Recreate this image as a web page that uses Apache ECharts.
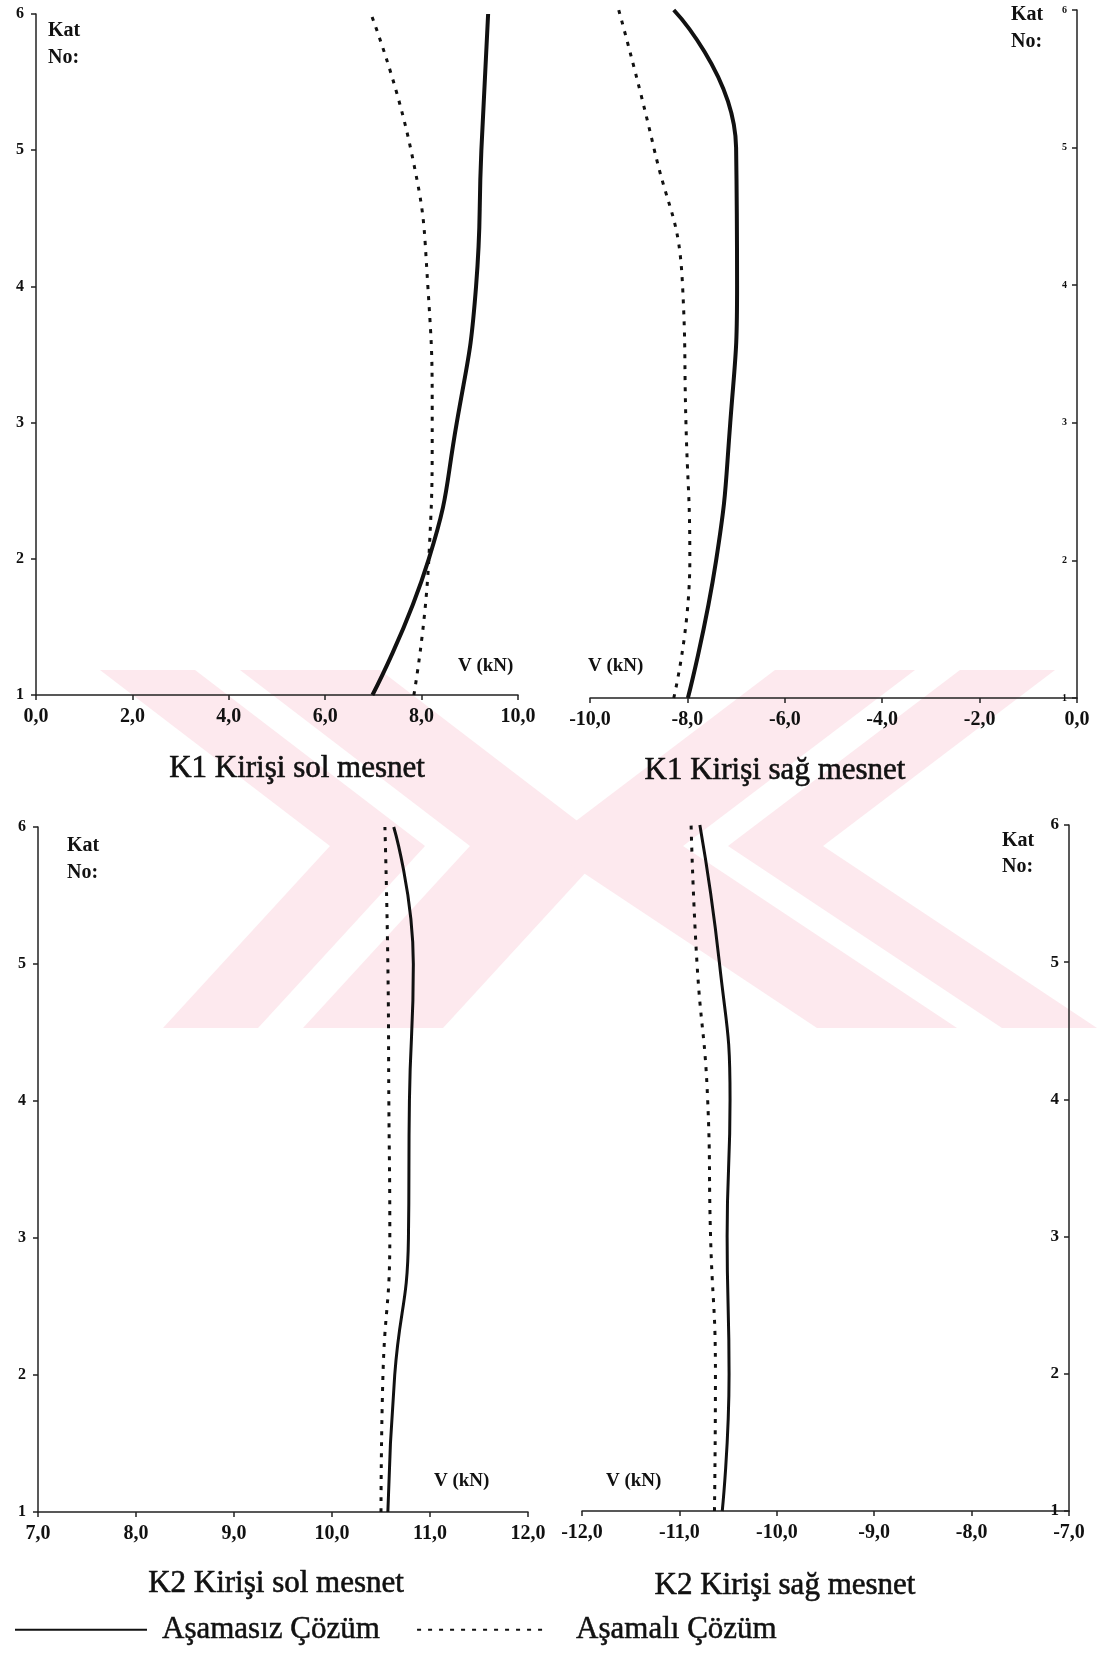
<!DOCTYPE html>
<html>
<head>
<meta charset="utf-8">
<script src="https://cdn.jsdelivr.net/npm/echarts@6/dist/echarts.min.js"></script>
<style>
  html, body { margin: 0; padding: 0; background: #fff; }
  #chart { width: 1098px; height: 1654px; }
</style>
</head>
<body>
<div id="chart"></div>
<script>
// kat numaraları (y ekseni)
const floors = [1, 2, 3, 4, 5, 6];

// kesme kuvvetleri V (kN), kat 1..6
const k1SolAsamasiz = [6.98, 8.15, 8.73, 9.13, 9.24, 9.38];
const k1SolAsamali = [7.84, 8.15, 8.22, 8.13, 7.78, 6.95];
const k1SagAsamasiz = [-7.99, -7.41, -7.12, -6.98, -7.00, -8.28];
const k1SagAsamali = [-8.28, -7.95, -8.03, -8.10, -8.69, -9.41];
const k2SolAsamasiz = [10.57, 10.64, 10.78, 10.79, 10.83, 10.63];
const k2SolAsamali = [10.50, 10.52, 10.59, 10.58, 10.57, 10.54];
const k2SagAsamasiz = [-10.56, -10.49, -10.51, -10.48, -10.59, -10.79];
const k2SagAsamali = [-10.64, -10.63, -10.68, -10.71, -10.82, -10.88];

const panelTitles = ['K1 Kirişi sol mesnet', 'K1 Kirişi sağ mesnet', 'K2 Kirişi sol mesnet', 'K2 Kirişi sağ mesnet'];
const seriesNames = ['Aşamasız Çözüm', 'Aşamalı Çözüm'];
// [min, max, interval] for each panel's V axis
const xRanges = [[0, 10, 2], [-10, 0, 2], [7, 12, 1], [-12, -7, 1]];

const panelData = [
  [k1SolAsamasiz, k1SolAsamali],
  [k1SagAsamasiz, k1SagAsamali],
  [k2SolAsamasiz, k2SolAsamali],
  [k2SagAsamasiz, k2SagAsamali]
];

const serif = '"Liberation Serif", "Times New Roman", serif';
const ink = '#111';
const pink = '#fde9ee';

const grids = [
  { left: 36, top: 14, width: 482, height: 681 },
  { left: 590, top: 10, width: 487, height: 688 },
  { left: 38, top: 827, width: 490, height: 685 },
  { left: 582, top: 825, width: 487, height: 686 }
];

// y ekseni yerleşimi: sol / sağ, yazı boyu
const yAxisPos = ['left', 'right', 'left', 'right'];
const yLabelSize = [16, 10, 16, 17];
const lineWidths = [4, 4, 3, 3];

const fmt = v => v.toFixed(1).replace('.', ',');

const xAxes = xRanges.map((r, i) => ({
  gridIndex: i,
  type: 'value',
  min: r[0],
  max: r[1],
  interval: r[2],
  splitLine: { show: false },
  axisLine: { onZero: false, lineStyle: { color: '#222', width: 1.5 } },
  axisTick: { show: true, length: 5, lineStyle: { color: '#222', width: 1.5 } },
  axisLabel: {
    margin: 12,
    formatter: fmt,
    color: ink,
    fontFamily: serif,
    fontWeight: 'bold',
    fontSize: 20
  }
}));

const yAxes = grids.map((g, i) => ({
  gridIndex: i,
  type: 'value',
  position: yAxisPos[i],
  min: 1,
  max: 6,
  interval: 1,
  splitLine: { show: false },
  axisLine: { onZero: false, lineStyle: { color: '#222', width: 1.5 } },
  axisTick: { show: true, inside: yAxisPos[i] === 'right', length: 5, lineStyle: { color: '#222', width: 1.5 } },
  axisLabel: {
    inside: yAxisPos[i] === 'right',
    margin: yAxisPos[i] === 'right' ? 10 : 12,
    color: ink,
    fontFamily: serif,
    fontWeight: 'bold',
    fontSize: yLabelSize[i]
  }
}));

const series = [];
panelData.forEach((pair, i) => {
  pair.forEach((vals, k) => {
    series.push({
      name: seriesNames[k],
      type: 'line',
      xAxisIndex: i,
      yAxisIndex: i,
      smooth: 0.5,
      symbol: 'none',
      silent: true,
      data: floors.map((f, j) => [vals[j], f]),
      lineStyle: k === 0
        ? { color: ink, width: lineWidths[i], type: 'solid' }
        : { color: ink, width: 3, type: [4, 7] },
      itemStyle: { color: ink }
    });
  });
});

const titleCenters = [[297, 769], [775, 771], [276, 1584], [785, 1586]];
const katPos = [[48, 17, 27], [1011, 1, 27], [67, 832, 27], [1002, 828, 26]];
const vPos = [[458, 666], [588, 666], [434, 1481], [606, 1481]];

const titles = [];
panelTitles.forEach((t, i) => {
  titles.push({
    text: t,
    left: titleCenters[i][0],
    top: titleCenters[i][1],
    textAlign: 'center',
    textVerticalAlign: 'middle',
    padding: 0,
    textStyle: {
      fontFamily: serif, fontWeight: 'normal', fontSize: 31, color: ink,
      textBorderColor: ink, textBorderWidth: 0.6
    }
  });
  titles.push({
    text: 'Kat\nNo:',
    left: katPos[i][0],
    top: katPos[i][1],
    padding: 0,
    textStyle: { fontFamily: serif, fontWeight: 'bold', fontSize: 20, color: ink, lineHeight: katPos[i][2] }
  });
  titles.push({
    text: 'V (kN)',
    left: vPos[i][0],
    top: vPos[i][1],
    textVerticalAlign: 'middle',
    padding: 0,
    textStyle: { fontFamily: serif, fontWeight: 'bold', fontSize: 19, color: ink }
  });
});

// soluk pembe filigran (iki ok başı)
function chevron(pts) {
  return { type: 'polygon', silent: true, z: -10, shape: { points: pts }, style: { fill: pink } };
}
const watermark = [
  chevron([[100, 670], [195, 670], [425, 846], [258, 1028], [163, 1028], [330, 846]]),
  chevron([[240, 670], [380, 670], [610, 846], [443, 1028], [303, 1028], [470, 846]]),
  chevron([[1055, 670], [960, 670], [728, 846], [1002, 1028], [1097, 1028], [823, 846]]),
  chevron([[915, 670], [775, 670], [543, 846], [817, 1028], [957, 1028], [683, 846]])
];

const legendTextStyle = { fontFamily: serif, fontSize: 31, color: ink, textBorderColor: ink, textBorderWidth: 0.5 };

const chart = echarts.init(document.getElementById('chart'), null, { renderer: 'canvas' });
chart.setOption({
  backgroundColor: '#fff',
  animation: false,
  graphic: { elements: watermark },
  title: titles,
  legend: {
    data: [
      { name: seriesNames[0], textStyle: Object.assign({}, legendTextStyle, { padding: [0, 0, 0, 10] }) },
      { name: seriesNames[1], textStyle: Object.assign({}, legendTextStyle, { padding: [0, 0, 0, 22] }) }
    ],
    left: 14,
    top: 1614,
    padding: 0,
    itemWidth: 132,
    itemHeight: 14,
    itemGap: 36,
    selectedMode: false,
    itemStyle: { opacity: 0 },
    textStyle: legendTextStyle
  },
  grid: grids,
  xAxis: xAxes,
  yAxis: yAxes,
  series: series
});
</script>
</body>
</html>
